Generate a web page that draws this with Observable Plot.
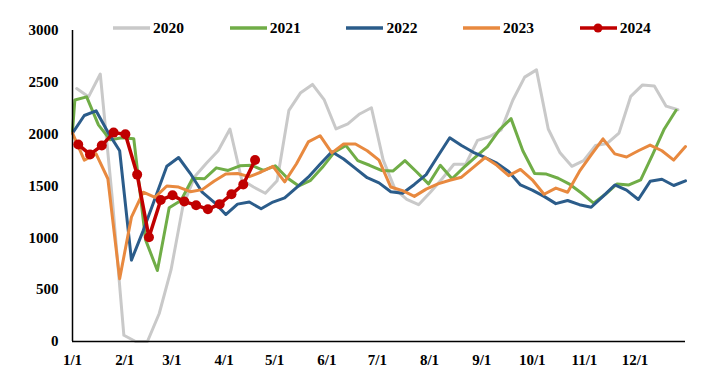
<!DOCTYPE html>
<html><head><meta charset="utf-8">
<script src="https://cdn.jsdelivr.net/npm/d3@7"></script>
<script src="https://cdn.jsdelivr.net/npm/@observablehq/plot@0.6"></script>
<style>
body{margin:0;background:#fff;}
#wrap{position:relative;width:703px;height:381px;}
#legend{position:absolute;top:18px;left:113px;height:20px;display:flex;font:bold 15.5px "Liberation Serif","Times New Roman",serif;color:#000;}
.item{width:116.7px;display:flex;align-items:center;height:20px;}
.item svg{margin-right:3px;}
</style></head><body>
<div id="wrap"><div id="legend"></div></div>
<script>
// ---- data ----
const years = ["2020", "2021", "2022", "2023", "2024"];
const colors = ["#c9c9c9", "#70ad47", "#2b5c8a", "#e8893f", "#c00000"];
const firstDay = [2.5, 1.4, 0, 0, 3.4];        // day-of-year of each series' first weekly reading
const lead2021 = 2030;                           // 2021 reading on 1/1 before its weekly series
const v2020 = [2440,2360,2580,1400,60,0,0,270,690,1300,1590,1720,1840,2050,1560,1490,1430,1550,2230,2400,2480,2330,2050,2100,2195,2255,1750,1470,1370,1320,1440,1570,1710,1710,1940,1975,2040,2330,2550,2620,2050,1820,1690,1745,1890,1910,2010,2365,2475,2465,2270,2235];
const v2021 = [2330,2360,2090,1945,1965,1955,980,685,1290,1360,1575,1570,1675,1650,1695,1700,1650,1695,1580,1500,1555,1680,1825,1890,1745,1700,1650,1645,1745,1635,1520,1700,1570,1680,1780,1880,2040,2150,1840,1620,1615,1575,1515,1430,1335,1420,1520,1510,1560,1800,2050,2230];
const v2022 = [2010,2180,2225,2020,1840,785,1070,1380,1690,1775,1620,1440,1345,1225,1325,1345,1280,1345,1385,1485,1585,1710,1830,1760,1670,1580,1530,1445,1430,1515,1610,1790,1965,1890,1825,1775,1720,1640,1510,1460,1400,1330,1360,1320,1295,1400,1510,1460,1370,1545,1565,1505,1550];
const v2023 = [2010,1750,1810,1570,605,1200,1440,1390,1500,1490,1445,1465,1545,1615,1620,1590,1635,1690,1540,1715,1925,1985,1820,1905,1905,1840,1750,1490,1455,1400,1470,1520,1555,1585,1680,1775,1700,1600,1660,1560,1420,1480,1440,1640,1800,1955,1810,1780,1840,1895,1840,1750,1880];
const v2024 = [1900,1805,1890,2015,2000,1610,1005,1365,1410,1350,1315,1275,1325,1420,1515,1750];
const monthDays = [0,31,59,90,120,151,181,212,243,273,304,334];
const monthLabels = ["1/1","2/1","3/1","4/1","5/1","6/1","7/1","8/1","9/1","10/1","11/1","12/1"];
const yTicks = [0,500,1000,1500,2000,2500,3000];

// ---- build table ----
const seriesValues = [v2020, v2021, v2022, v2023, v2024];
const rows = [];
years.forEach((yr, k) => {
  if (yr === "2021") rows.push({year: yr, day: 0, value: lead2021});
  seriesValues[k].forEach((v, i) => rows.push({year: yr, day: firstDay[k] + 7 * i, value: v}));
});
const rows2024 = rows.filter(d => d.year === "2024");
const labelOf = new Map(monthDays.map((d, i) => [d, monthLabels[i]]));

const chart = Plot.plot({
  width: 703, height: 381,
  marginLeft: 72, marginRight: 18, marginTop: 30, marginBottom: 40,
  style: {fontFamily: '"Liberation Serif","Times New Roman",serif', fontSize: "15px", fontWeight: "bold", color: "#000", background: "#fff", overflow: "visible"},
  x: {domain: [0, 364], label: null},
  y: {domain: [0, 3000], label: null},
  color: {domain: years, range: colors},
  marks: [
    Plot.axisX({ticks: monthDays, tickFormat: d => labelOf.get(d), tickSize: 0, tickPadding: 13, label: null}),
    Plot.axisY({ticks: yTicks, tickFormat: d => String(d), tickSize: 0, tickPadding: 14, label: null}),
    Plot.line(rows.filter(d => d.year !== "2024"), {x: "day", y: "value", z: "year", stroke: "year", strokeWidth: 3, strokeLinejoin: "round", strokeLinecap: "round"}),
    Plot.ruleX([0], {stroke: "#000", strokeWidth: 1.5}),
    Plot.ruleY([0], {stroke: "#000", strokeWidth: 1.5}),
    Plot.line(rows2024, {x: "day", y: "value", stroke: "year", strokeWidth: 3.5, strokeLinejoin: "round"}),
    Plot.dot(rows2024, {x: "day", y: "value", r: 5, fill: "year", stroke: "none"})
  ]
});
document.getElementById("wrap").prepend(chart);

// ---- legend ----
const legend = document.getElementById("legend");
years.forEach((yr, k) => {
  const item = document.createElement("div");
  item.className = "item";
  const dot = yr === "2024" ? `<circle cx="18" cy="6" r="4.5" fill="${colors[k]}"/>` : "";
  item.innerHTML = `<svg width="37" height="12"><line x1="0" y1="6" x2="37" y2="6" stroke="${colors[k]}" stroke-width="3.5"/>${dot}</svg><span>${yr}</span>`;
  legend.appendChild(item);
});
</script>
</body></html>
